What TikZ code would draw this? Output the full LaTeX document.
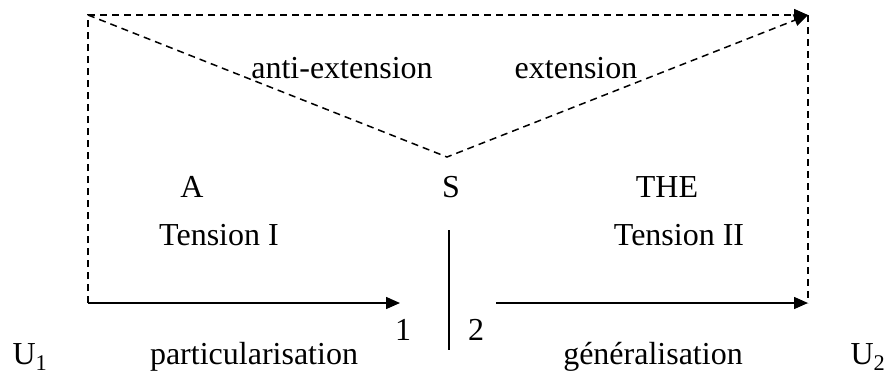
\documentclass[tikz,border=0pt]{standalone}
\usepackage{fontspec}
\setmainfont{Liberation Serif}
\usetikzlibrary{positioning, arrows.meta}

\begin{document}
\begin{tikzpicture}[
      x=1pt, y=-1pt,
      font=\fontsize{32}{38}\selectfont,
      lbl/.style={anchor=base, inner sep=0pt},
      dashline/.style={dash pattern=on 7pt off 5pt, line width=1.5pt},
      solidline/.style={line width=1.5pt},
      arr/.style={-{Triangle[length=14pt, width=12pt]}}
    ]
    \useasboundingbox (0,0) rectangle (890,376);
    %% corners of the frame
    \coordinate (tl) at (88,15);
    \coordinate (tr) at (808,15);
    \coordinate (bl) at (88,303);
    \coordinate (br) at (808,303);
    \coordinate (vee) at (447,157);
    \coordinate (pend) at (400,303);
    \coordinate (gstart) at (496,303);
    \coordinate (cuttop) at (449,230);
    \coordinate (cutbot) at (449,350);
    %% dashed paths
    \draw[dashline, arr] (bl) -- (tl) -- (tr);
    \draw[dashline, arr] (tl) -- (vee) -- (tr);
    \draw[dashline] (tr) -- (br);
    %% solid arrows and separator
    \draw[solidline, arr] (bl) -- (pend);
    \draw[solidline, arr] (gstart) -- (br);
    \draw[solidline] (cuttop) -- (cutbot);
    %% labels
    \node[lbl] (anti) at (342,78) {anti-extension};
    \node[lbl] (ext) at (576,78) {extension};
    \node[lbl] (a) at (192,197) {A};
    \node[lbl] (s) at (451,197) {S};
    \node[lbl] (the) at (667,197) {THE};
    \node[lbl] (t1) at (219,245) {Tension I};
    \node[lbl] (t2) at (679,245) {Tension II};
    \node[lbl] (one) at (403,340) {1};
    \node[lbl] (two) at (476,340) {2};
    \node[lbl] (u1) at (30,364) {U\textsubscript{1}};
    \node[lbl] (part) at (254,364) {particularisation};
    \node[lbl] (gen) at (653,364) {généralisation};
    \node[lbl] (u2) at (868,364) {U\textsubscript{2}};
  \end{tikzpicture}
\end{document}
